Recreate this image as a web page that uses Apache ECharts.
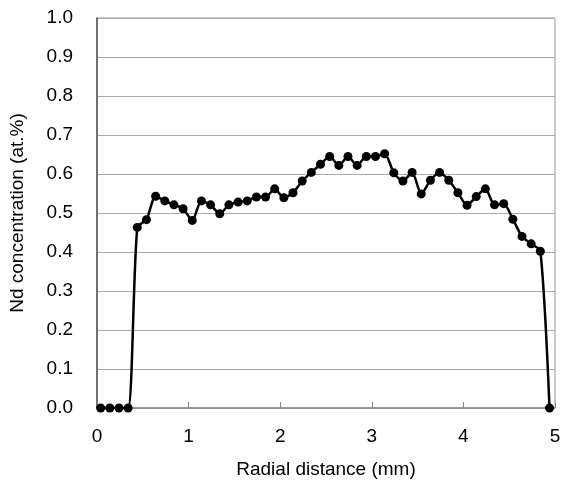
<!DOCTYPE html>
<html>
<head>
<meta charset="utf-8">
<script src="https://cdn.jsdelivr.net/npm/echarts@6/dist/echarts.min.js"></script>
<style>
  html, body { margin: 0; padding: 0; background: #fff; }
  #chart { width: 563px; height: 484px; }
</style>
</head>
<body>
<div id="chart"></div>
<script>
// radial position (mm) and Nd concentration (at.%)
const distance = [
  0.04, 0.14, 0.24, 0.34, 0.44, 0.54, 0.64, 0.74, 0.84, 0.94,
  1.04, 1.14, 1.24, 1.34, 1.44, 1.54, 1.64, 1.74, 1.84, 1.94,
  2.04, 2.14, 2.24, 2.34, 2.44, 2.54, 2.64, 2.74, 2.84, 2.94,
  3.04, 3.14, 3.24, 3.34, 3.44, 3.54, 3.64, 3.74, 3.84, 3.94,
  4.04, 4.14, 4.24, 4.34, 4.44, 4.54, 4.64, 4.74, 4.84, 4.94
]
const concentration = [
  0, 0, 0, 0, 0.463, 0.483, 0.543, 0.531, 0.521, 0.511,
  0.481, 0.531, 0.521, 0.498, 0.521, 0.528, 0.531, 0.541, 0.541, 0.562,
  0.539, 0.552, 0.582, 0.604, 0.625, 0.645, 0.622, 0.645, 0.622, 0.645,
  0.645, 0.652, 0.603, 0.582, 0.604, 0.549, 0.584, 0.604, 0.584, 0.552,
  0.520, 0.542, 0.562, 0.521, 0.524, 0.484, 0.440, 0.421, 0.402, 0
]
const xTicks = [0, 1, 2, 3, 4, 5]
const yTicks = [0, 0.1, 0.2, 0.3, 0.4, 0.5, 0.6, 0.7, 0.8, 0.9, 1.0]

const chart = echarts.init(document.getElementById('chart'))
const font = 'Liberation Sans, Arial, sans-serif'

chart.setOption({
  animation: false,
  backgroundColor: '#fff',
  grid: {
    left: 97,
    right: 8,
    top: 18,
    bottom: 76,
    outerBoundsMode: 'none',
    containLabel: false,
    show: true,
    borderColor: '#999',
    borderWidth: 1
  },
  xAxis: {
    type: 'value',
    min: xTicks[0],
    max: xTicks[xTicks.length - 1],
    interval: 1,
    name: 'Radial distance (mm)',
    nameLocation: 'middle',
    nameGap: 52,
    nameTextStyle: { fontFamily: font, fontSize: 19, color: '#000' },
    axisLine: { show: true, lineStyle: { color: '#888', width: 1.5 } },
    axisTick: { show: true, inside: true, length: 6, lineStyle: { color: '#888' } },
    axisLabel: { fontFamily: font, fontSize: 19, color: '#000', margin: 19 },
    splitLine: { show: false }
  },
  yAxis: {
    type: 'value',
    min: yTicks[0],
    max: yTicks[yTicks.length - 1],
    interval: 0.1,
    name: 'Nd concentration (at.%)',
    nameLocation: 'middle',
    nameGap: 70,
    nameTextStyle: { fontFamily: font, fontSize: 19, color: '#000' },
    axisLine: { show: true, lineStyle: { color: '#555', width: 1.5 } },
    axisTick: { show: false },
    axisLabel: {
      fontFamily: font,
      fontSize: 19,
      color: '#000',
      margin: 24,
      formatter: (v) => v.toFixed(1)
    },
    splitLine: { show: true, lineStyle: { color: '#aaa', width: 1 } }
  },
  series: [
    {
      type: 'line',
      data: distance.map((d, i) => [d, concentration[i]]),
      smooth: 0.25,
      symbol: 'circle',
      symbolSize: 9,
      lineStyle: { color: '#000', width: 2.5 },
      itemStyle: { color: '#000' }
    }
  ]
})
</script>
</body>
</html>
